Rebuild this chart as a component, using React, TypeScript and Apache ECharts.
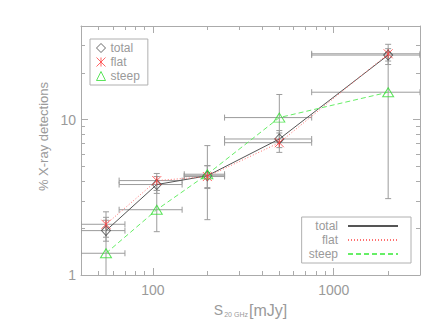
import React, { useEffect, useRef } from "react";
import * as echarts from "echarts";

// Flux-density bins (mJy)
const binCenters = [55, 105, 200, 500, 2000];
const binLow = [40, 65, 149, 249, 755];
const binHigh = [70, 145, 249, 755, 3000];

// % X-ray detections
const totalValues = [1.93, 3.82, 4.35, 7.5, 26.0];
const totalLow = [1.65, 3.35, 3.65, 6.6, 23.8];
const totalHigh = [2.25, 4.3, 5.05, 8.5, 28.6];

const flatValues = [2.12, 4.05, 4.3, 7.1, 26.5];
const flatLow = [1.75, 3.5, 3.6, 6.15, 22.6];
const flatHigh = [2.55, 4.5, 5.05, 8.2, 30.5];

const steepValues = [1.38, 2.63, 4.45, 10.3, 15.0];
const steepLow = [0.8, 1.9, 2.27, 7.2, 3.1];
const steepHigh = [2.35, 3.5, 6.8, 14.5, 27.0];

// Axis ranges and ticks
const xRange = [40, 3000];
const yRange = [1, 40];
const xMajorTicks = [100, 1000];
const xMinorTicks = [40, 50, 60, 70, 80, 90, 200, 300, 400, 500, 600, 700, 800, 900, 2000, 3000];
const yMajorTicks = [1, 10];
const yMinorTicks = [2, 3, 4, 5, 6, 7, 8, 9, 20, 30, 40];

const lg = (v: number) => Math.log10(v);

const TEXT = "#9a9a9a";
const AXIS = "#ababab";
const ERR = "#9c9c9c";
const FONT = "'Liberation Sans', Arial, sans-serif";

function makeAxes(dim: "x" | "y") {
  const range = dim === "x" ? xRange : yRange;
  const major = (dim === "x" ? xMajorTicks : yMajorTicks).map(lg);
  const minor = (dim === "x" ? xMinorTicks : yMinorTicks).map(lg);
  const positions = dim === "x" ? ["bottom", "top"] : ["left", "right"];
  const axes: any[] = [];
  positions.forEach((pos, pi) => {
    [true, false].forEach((isMajor) => {
      const main = pi === 0 && isMajor;
      axes.push({
        type: "value",
        position: pos,
        min: lg(range[0]),
        max: lg(range[1]),
        axisLine: { show: isMajor, onZero: false, lineStyle: { color: AXIS, width: 1 } },
        axisTick: {
          show: true,
          inside: true,
          length: isMajor ? 7 : 4,
          customValues: isMajor ? major : minor,
          lineStyle: { color: AXIS, width: 1 },
        },
        axisLabel: main
          ? {
              show: true,
              customValues: major,
              formatter: (v: number) => String(Math.round(Math.pow(10, v))),
              color: TEXT,
              fontSize: 14,
              fontFamily: FONT,
              margin: dim === "x" ? 8 : 5,
            }
          : { show: false },
        splitLine: { show: false },
        minorTick: { show: false },
        minorSplitLine: { show: false },
      });
    });
  });
  return axes;
}

function errorData(values: number[], lows: number[], highs: number[]) {
  return binCenters.map((x, i) => [
    lg(x),
    lg(values[i]),
    lg(binLow[i]),
    lg(binHigh[i]),
    lg(lows[i]),
    lg(highs[i]),
  ]);
}

function pointData(values: number[]) {
  return binCenters.map((x, i) => [lg(x), lg(values[i])]);
}

const renderErrorBar = (_params: any, api: any) => {
  const xc = api.value(0);
  const yc = api.value(1);
  const c = api.coord([xc, yc]);
  const xl = api.coord([api.value(2), yc]);
  const xh = api.coord([api.value(3), yc]);
  const yl = api.coord([xc, api.value(4)]);
  const yh = api.coord([xc, api.value(5)]);
  const cap = 3;
  const style = { stroke: ERR, lineWidth: 1, fill: "none" };
  const mk = (x1: number, y1: number, x2: number, y2: number) => ({
    type: "line",
    shape: { x1, y1, x2, y2 },
    style,
  });
  return {
    type: "group",
    children: [
      mk(xl[0], c[1], xh[0], c[1]),
      mk(xl[0], c[1] - cap, xl[0], c[1] + cap),
      mk(xh[0], c[1] - cap, xh[0], c[1] + cap),
      mk(c[0], yl[1], c[0], yh[1]),
      mk(c[0] - cap, yl[1], c[0] + cap, yl[1]),
      mk(c[0] - cap, yh[1], c[0] + cap, yh[1]),
    ],
  };
};

const ASTERISK =
  "path://M0,0 L10,10 M0,10 L10,0 M5,0 L5,10";

export default function App() {
  const ref = useRef<HTMLDivElement>(null);

  useEffect(() => {
    document.body.style.margin = "0";
    if (!ref.current) return;
    const chart = echarts.init(ref.current, undefined, { renderer: "svg" });

    const xAxes = makeAxes("x");
    xAxes[0].name = "{s|S}{sub|20 GHz}{b|[mJy]}";
    xAxes[0].nameLocation = "middle";
    xAxes[0].nameGap = 27;
    xAxes[0].nameTextStyle = {
      color: TEXT,
      fontFamily: FONT,
      rich: {
        s: { fontSize: 14, color: TEXT, fontFamily: FONT },
        sub: { fontSize: 7, color: TEXT, fontFamily: FONT, verticalAlign: "bottom", padding: [0, 1, 0, 1] },
        b: { fontSize: 16, color: TEXT, fontFamily: FONT },
      },
    };
    const yAxes = makeAxes("y");
    yAxes[0].name = "% X-ray detections";
    yAxes[0].nameLocation = "middle";
    yAxes[0].nameGap = 28;
    yAxes[0].nameTextStyle = {
      color: TEXT,
      fontFamily: FONT,
      fontSize: 13,
      padding: [0, 0, 0, 28],
    };

    const errSeries = [
      errorData(totalValues, totalLow, totalHigh),
      errorData(flatValues, flatLow, flatHigh),
      errorData(steepValues, steepLow, steepHigh),
    ].map((d, i) => ({
      type: "custom",
      name: "err" + i,
      renderItem: renderErrorBar,
      data: d,
      clip: true,
      encode: { x: [0, 2, 3], y: [1, 4, 5] },
      z: 1,
      silent: true,
    }));

    const option: any = {
      animation: false,
      backgroundColor: "#ffffff",
      grid: { left: 81, right: 24, top: 26, bottom: 52, outerBoundsMode: "none" },
      xAxis: xAxes,
      yAxis: yAxes,
      legend: [
        {
          orient: "vertical",
          left: 90,
          top: 39,
          itemWidth: 9,
          itemHeight: 9,
          itemGap: 0,
          padding: [2, 8, 2, 6],
          borderColor: "#b0b0b0",
          borderWidth: 1,
          selectedMode: false,
          data: ["total", "flat", "steep"],
          itemStyle: { borderWidth: 1 },
          textStyle: { color: TEXT, fontSize: 12, fontFamily: FONT, lineHeight: 14 },
        },
        {
          orient: "vertical",
          right: 33,
          top: 217,
          align: "right",
          itemWidth: 50,
          itemHeight: 10,
          itemGap: 0,
          padding: [2, 12, 2, 7],
          borderColor: "#b0b0b0",
          borderWidth: 1,
          selectedMode: false,
          data: ["total ", "flat ", "steep "],
          formatter: (n: string) => n.trim(),
          itemStyle: { color: "rgba(0,0,0,0)", borderWidth: 0, opacity: 0 },
          textStyle: { color: TEXT, fontSize: 12, fontFamily: FONT, lineHeight: 14, padding: [0, 5, 0, 0] },
        },
      ],
      series: [
        ...errSeries,
        {
          type: "line",
          name: "total ",
          data: pointData(totalValues),
          symbol: "none",
          lineStyle: { color: "#555555", width: 1 },
          itemStyle: { color: "#555555" },
          z: 3,
        },
        {
          type: "line",
          name: "flat ",
          data: pointData(flatValues),
          symbol: "none",
          lineStyle: { color: "#ff7070", width: 1, type: [1, 2] },
          itemStyle: { color: "#ff7070" },
          z: 3,
        },
        {
          type: "line",
          name: "steep ",
          data: pointData(steepValues),
          symbol: "none",
          lineStyle: { color: "#66ee66", width: 1, type: [5, 3] },
          itemStyle: { color: "#66ee66" },
          z: 3,
        },
        {
          type: "scatter",
          name: "total",
          data: pointData(totalValues),
          symbol: "diamond",
          symbolSize: [9, 10],
          itemStyle: { color: "rgba(255,255,255,0)", borderColor: "#444444", borderWidth: 1 },
          z: 4,
        },
        {
          type: "scatter",
          name: "flat",
          data: pointData(flatValues),
          symbol: ASTERISK,
          symbolSize: 9,
          itemStyle: { color: "rgba(255,255,255,0)", borderColor: "#ff4040", borderWidth: 1 },
          z: 5,
        },
        {
          type: "scatter",
          name: "steep",
          data: pointData(steepValues),
          symbol: "triangle",
          symbolSize: [11, 9],
          itemStyle: { color: "rgba(255,255,255,0)", borderColor: "#33dd33", borderWidth: 1 },
          z: 4,
        },
      ],
    };

    chart.setOption(option);
    return () => chart.dispose();
  }, []);

  return <div ref={ref} style={{ width: 444, height: 327 }} />;
}
